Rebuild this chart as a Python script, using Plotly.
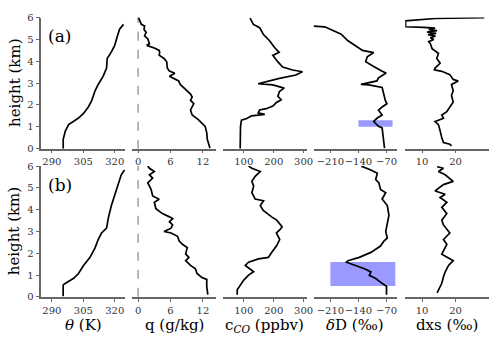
import plotly.graph_objects as go
from plotly.subplots import make_subplots

# ── Profiles (height in km, bottom → top) ───────────────────────────────────
# (a)
theta_a_z = [0.0, 0.43, 0.8, 1.1, 1.25, 1.4, 1.61, 1.91, 2.2, 2.65, 2.94, 3.32,
             3.69, 4.13, 4.43, 4.73, 5.1, 5.47, 5.69]
theta_a = [295.4, 295.4, 296.4, 298.0, 300.4, 302.7, 305.1, 307.4, 309.0, 310.6,
           312.1, 314.5, 316.1, 316.4, 318.4, 320.0, 321.1, 322.3, 324.2]

q_a_z = [0.02, 0.43, 0.73, 1.02, 1.32, 1.54, 1.77, 2.06, 2.21, 2.36, 2.5, 2.72,
         2.94, 3.1, 3.2, 3.32, 3.45, 3.55, 3.69, 3.98, 4.13, 4.28, 4.4, 4.5,
         4.61, 4.73, 4.8, 5.02, 5.17, 5.32, 5.45, 5.62, 5.69, 5.91, 6.0]
q_a = [13.3, 12.8, 12.7, 12.4, 11.2, 10.0, 9.7, 10.3, 9.7, 10.0, 9.7, 8.7,
       7.8, 7.5, 6.6, 5.8, 6.8, 5.8, 5.4, 5.3, 4.8, 3.9, 4.0, 3.9,
       3.0, 1.6, 2.1, 1.8, 1.2, 1.5, 1.1, 1.2, 0.6, 0.3, 0.1]

co_a_z = [0.0, 0.5, 1.0, 1.3, 1.38, 1.5, 1.57, 1.64, 1.77, 1.83, 1.95, 2.1, 2.24,
          2.4, 2.62, 2.77, 2.92, 2.97, 3.07, 3.22, 3.37, 3.52, 3.6, 3.74, 3.97,
          4.27, 4.41, 4.64, 4.94, 5.24, 5.54, 5.69, 5.98]
co_a = [88, 88, 89, 92, 110, 126, 170, 148, 153, 175, 197, 208, 225,
        214, 219, 235, 197, 148, 175, 219, 274, 296, 263, 230, 214,
        197, 218, 202, 186, 165, 153, 132, 121]

dd_a_z = [0.02, 0.58, 0.95, 1.02, 1.24, 1.39, 1.54, 1.76, 1.91, 2.06, 2.21, 2.5,
          2.8, 2.92, 2.94, 3.1, 3.24, 3.46, 3.54, 3.76, 3.98, 4.21, 4.4, 4.5,
          4.73, 4.95, 5.24, 5.39, 5.58, 5.61]
dd_a = [-75, -79, -81, -90, -102, -94, -81, -90, -81, -69, -73, -77,
        -81, -114, -134, -94, -90, -71, -81, -102, -122, -118, -102, -130,
        -150, -167, -183, -203, -224, -252]

dxs_a_z = [0.13, 0.2, 0.28, 0.5, 0.88, 1.1, 1.24, 1.39, 1.54, 1.69, 1.91, 2.13,
           2.43, 2.65, 2.94, 3.1, 3.17, 3.39, 3.54, 3.61, 3.69, 3.91, 4.13, 4.36,
           4.58, 4.8, 4.9, 5.0, 5.08, 5.15, 5.22, 5.28, 5.34, 5.4, 5.46, 5.52,
           5.55, 5.58, 5.85, 5.87, 5.96, 6.0]
dxs_a = [18.8, 18.3, 16.4, 15.9, 15.3, 14.9, 13.9, 16.4, 15.9, 17.4, 18.3, 19.3,
         18.8, 19.3, 18.8, 20.8, 19.3, 18.3, 15.9, 13.7, 13.9, 15.4, 14.4, 14.9,
         13.0, 12.5, 12.0, 13.5, 12.5, 14.0, 11.8, 14.2, 11.5, 14.5, 12.0, 13.9,
         10.5, 5.1, 5.1, 6.5, 13.9, 28.6]

# (b)
theta_b_z = [0.03, 0.55, 0.62, 0.85, 1.07, 1.44, 1.81, 2.25, 2.63, 2.93, 3.15,
             3.6, 4.19, 4.71, 5.23, 5.6, 5.82]
theta_b = [295.35, 295.4, 296.5, 300.4, 302.7, 305.1, 308.2, 310.6, 312.1, 313.7,
           316.1, 316.9, 318.4, 320.0, 321.6, 323.1, 324.7]

q_b_z = [0.1, 0.47, 0.8, 0.89, 1.07, 1.29, 1.44, 1.66, 1.81, 1.97, 2.26, 2.41,
         2.56, 2.78, 2.93, 3.0, 3.15, 3.3, 3.45, 3.59, 3.67, 3.82, 4.04, 4.34,
         4.48, 4.63, 4.93, 5.23, 5.45, 5.6, 5.75, 5.9, 6.0]
q_b = [12.9, 12.7, 12.7, 11.8, 10.9, 10.6, 9.7, 8.8, 9.4, 8.8, 9.1, 8.2,
       7.6, 7.3, 6.1, 4.8, 6.1, 6.4, 5.8, 6.4, 5.8, 4.5, 3.3, 3.0,
       3.9, 2.7, 2.4, 1.8, 2.7, 2.1, 3.0, 2.1, 1.8]

co_b_z = [0.1, 0.32, 0.55, 0.77, 1.0, 1.15, 1.44, 1.59, 1.74, 1.81, 2.03, 2.33,
          2.63, 2.93, 3.07, 3.22, 3.52, 3.67, 3.97, 4.19, 4.41, 4.49, 4.78, 5.08,
          5.3, 5.53, 5.75, 5.9, 6.0]
co_b = [78, 78, 89, 100, 116, 133, 105, 116, 149, 182, 193, 209,
        220, 209, 220, 228, 210, 193, 165, 155, 166, 138, 127, 133,
        127, 138, 155, 127, 116]

dd_b_z = [0.1, 0.48, 0.62, 0.84, 0.99, 1.14, 1.29, 1.44, 1.59, 1.66, 1.81, 2.04,
          2.33, 2.55, 2.7, 3.0, 3.3, 3.74, 4.19, 4.49, 4.78, 4.93, 5.23, 5.38,
          5.67, 5.82, 6.0]
dd_b = [-70, -70, -81, -97, -113, -109, -125, -150, -170, -166, -138, -109,
        -85, -77, -68, -72, -68, -64, -68, -81, -72, -85, -89, -97,
        -93, -109, -133]

dxs_b_z = [0.18, 0.33, 0.62, 0.92, 1.14, 1.44, 1.66, 1.96, 2.41, 2.63, 2.93, 3.3,
           3.52, 3.82, 4.11, 4.34, 4.56, 4.71, 4.86, 5.15, 5.3, 5.6, 5.75, 5.9,
           5.97]
dxs_b = [14.5, 14.9, 15.9, 16.4, 16.9, 17.9, 19.3, 15.9, 17.4, 16.4, 18.3, 16.4,
         15.9, 17.4, 15.9, 17.4, 15.4, 16.9, 13.9, 16.4, 19.3, 16.9, 14.9, 16.4,
         14.5]

# shaded δD boxes: [x0, x1, z0, z1]
box_dd_a = [-140, -55, 1.0, 1.3]
box_dd_b = [-210, -48, 0.5, 1.6]

# ── Axes set-up ─────────────────────────────────────────────────────────────
x_ranges = [[285, 325], [-1.1, 14.4], [30, 310], [-252, -43], [5, 30]]
x_ticks = [[290, 305, 320], [0, 6, 12], [100, 200, 300], [-210, -140, -70], [10, 20]]
x_titles = ["<i>θ</i> (K)", "q (g/kg)", "c<sub><i>CO</i></sub> (ppbv)",
            "<i>δ</i>D (‰)", "dxs (‰)"]
panel_labels = ["(a)", "(b)"]

W, H = 500, 339
col_px = [(42, 127), (134, 219), (226, 311), (318, 403), (411, 496)]
row_px = [(13, 148), (166, 300.7)]

FONT = "DejaVu Serif"
SPINE = "#666"

profiles = [
    [(theta_a, theta_a_z), (q_a, q_a_z), (co_a, co_a_z), (dd_a, dd_a_z), (dxs_a, dxs_a_z)],
    [(theta_b, theta_b_z), (q_b, q_b_z), (co_b, co_b_z), (dd_b, dd_b_z), (dxs_b, dxs_b_z)],
]

fig = make_subplots(rows=2, cols=5)

for r in range(2):
    for c in range(5):
        xs, zs = profiles[r][c]
        fig.add_trace(go.Scatter(
            x=xs, y=zs, mode="lines",
            line=dict(color="black", width=1.7),
            showlegend=False, hoverinfo="skip",
        ), row=r + 1, col=c + 1)

        x0, x1 = col_px[c]
        y0, y1 = row_px[r]
        fig.update_xaxes(
            domain=[x0 / W, x1 / W], range=x_ranges[c],
            tickvals=x_ticks[c], ticks="outside", ticklen=3, tickwidth=1,
            tickcolor=SPINE, showline=True, linecolor=SPINE, linewidth=1.5,
            showgrid=False, zeroline=False, tickangle=0,
            tickfont=dict(family=FONT, size=10, color="#333"),
            row=r + 1, col=c + 1,
        )
        first = c == 0
        fig.update_yaxes(
            domain=[1 - y1 / H, 1 - y0 / H], range=[0, 6],
            tickvals=[0, 1, 2, 3, 4, 5, 6] if first else [],
            ticks="outside" if first else "", ticklen=4, tickcolor=SPINE,
            showticklabels=first, showline=first, linecolor=SPINE, linewidth=1.5,
            showgrid=False, zeroline=False,
            tickfont=dict(family=FONT, size=10, color="#333"),
            row=r + 1, col=c + 1,
        )

# dashed zero line in the q panels
for r in range(2):
    ax = r * 5 + 2
    fig.add_shape(type="line", xref=f"x{ax}", yref=f"y{ax} domain",
                  x0=0, x1=0, y0=0, y1=1, layer="below",
                  line=dict(color="#888", width=1.2, dash="dash"))

# shaded boxes in the δD panels
for r, box in enumerate([box_dd_a, box_dd_b]):
    ax = r * 5 + 4
    fig.add_shape(type="rect", xref=f"x{ax}", yref=f"y{ax}",
                  x0=box[0], x1=box[1], y0=box[2], y1=box[3], layer="below",
                  fillcolor="rgba(0,0,255,0.4)", line=dict(width=0))

# panel labels and y titles
for r in range(2):
    ax = "" if r == 0 else "6"
    fig.add_annotation(text=panel_labels[r], xref=f"x{ax}", yref=f"y{ax}",
                       x=287, y=5.15, xanchor="left", yanchor="middle",
                       showarrow=False, font=dict(family=FONT, size=17, color="black"))
    y0, y1 = row_px[r]
    fig.add_annotation(text="height (km)", xref="paper", yref="paper",
                       x=15 / W, y=1 - (y0 + y1) / 2 / H, textangle=-90,
                       xanchor="center", yanchor="middle", showarrow=False,
                       font=dict(family=FONT, size=15, color="black"))

# x titles under row (b)
for c in range(5):
    x0, x1 = col_px[c]
    fig.add_annotation(text=x_titles[c], xref="paper", yref="paper",
                       x=(x0 + x1) / 2 / W, y=1 - 330 / H,
                       xanchor="center", yanchor="middle", showarrow=False,
                       font=dict(family=FONT, size=15, color="black"))

fig.update_layout(
    width=W, height=H,
    margin=dict(l=0, r=0, t=0, b=0),
    paper_bgcolor="white", plot_bgcolor="white",
)

# the page body has a default 8px margin; drop it so the figure sits at 0,0
fig.write_html("out.html", config={"displayModeBar": False},
               post_script="document.body.style.margin='0';"
                           "document.body.style.overflow='hidden';")
